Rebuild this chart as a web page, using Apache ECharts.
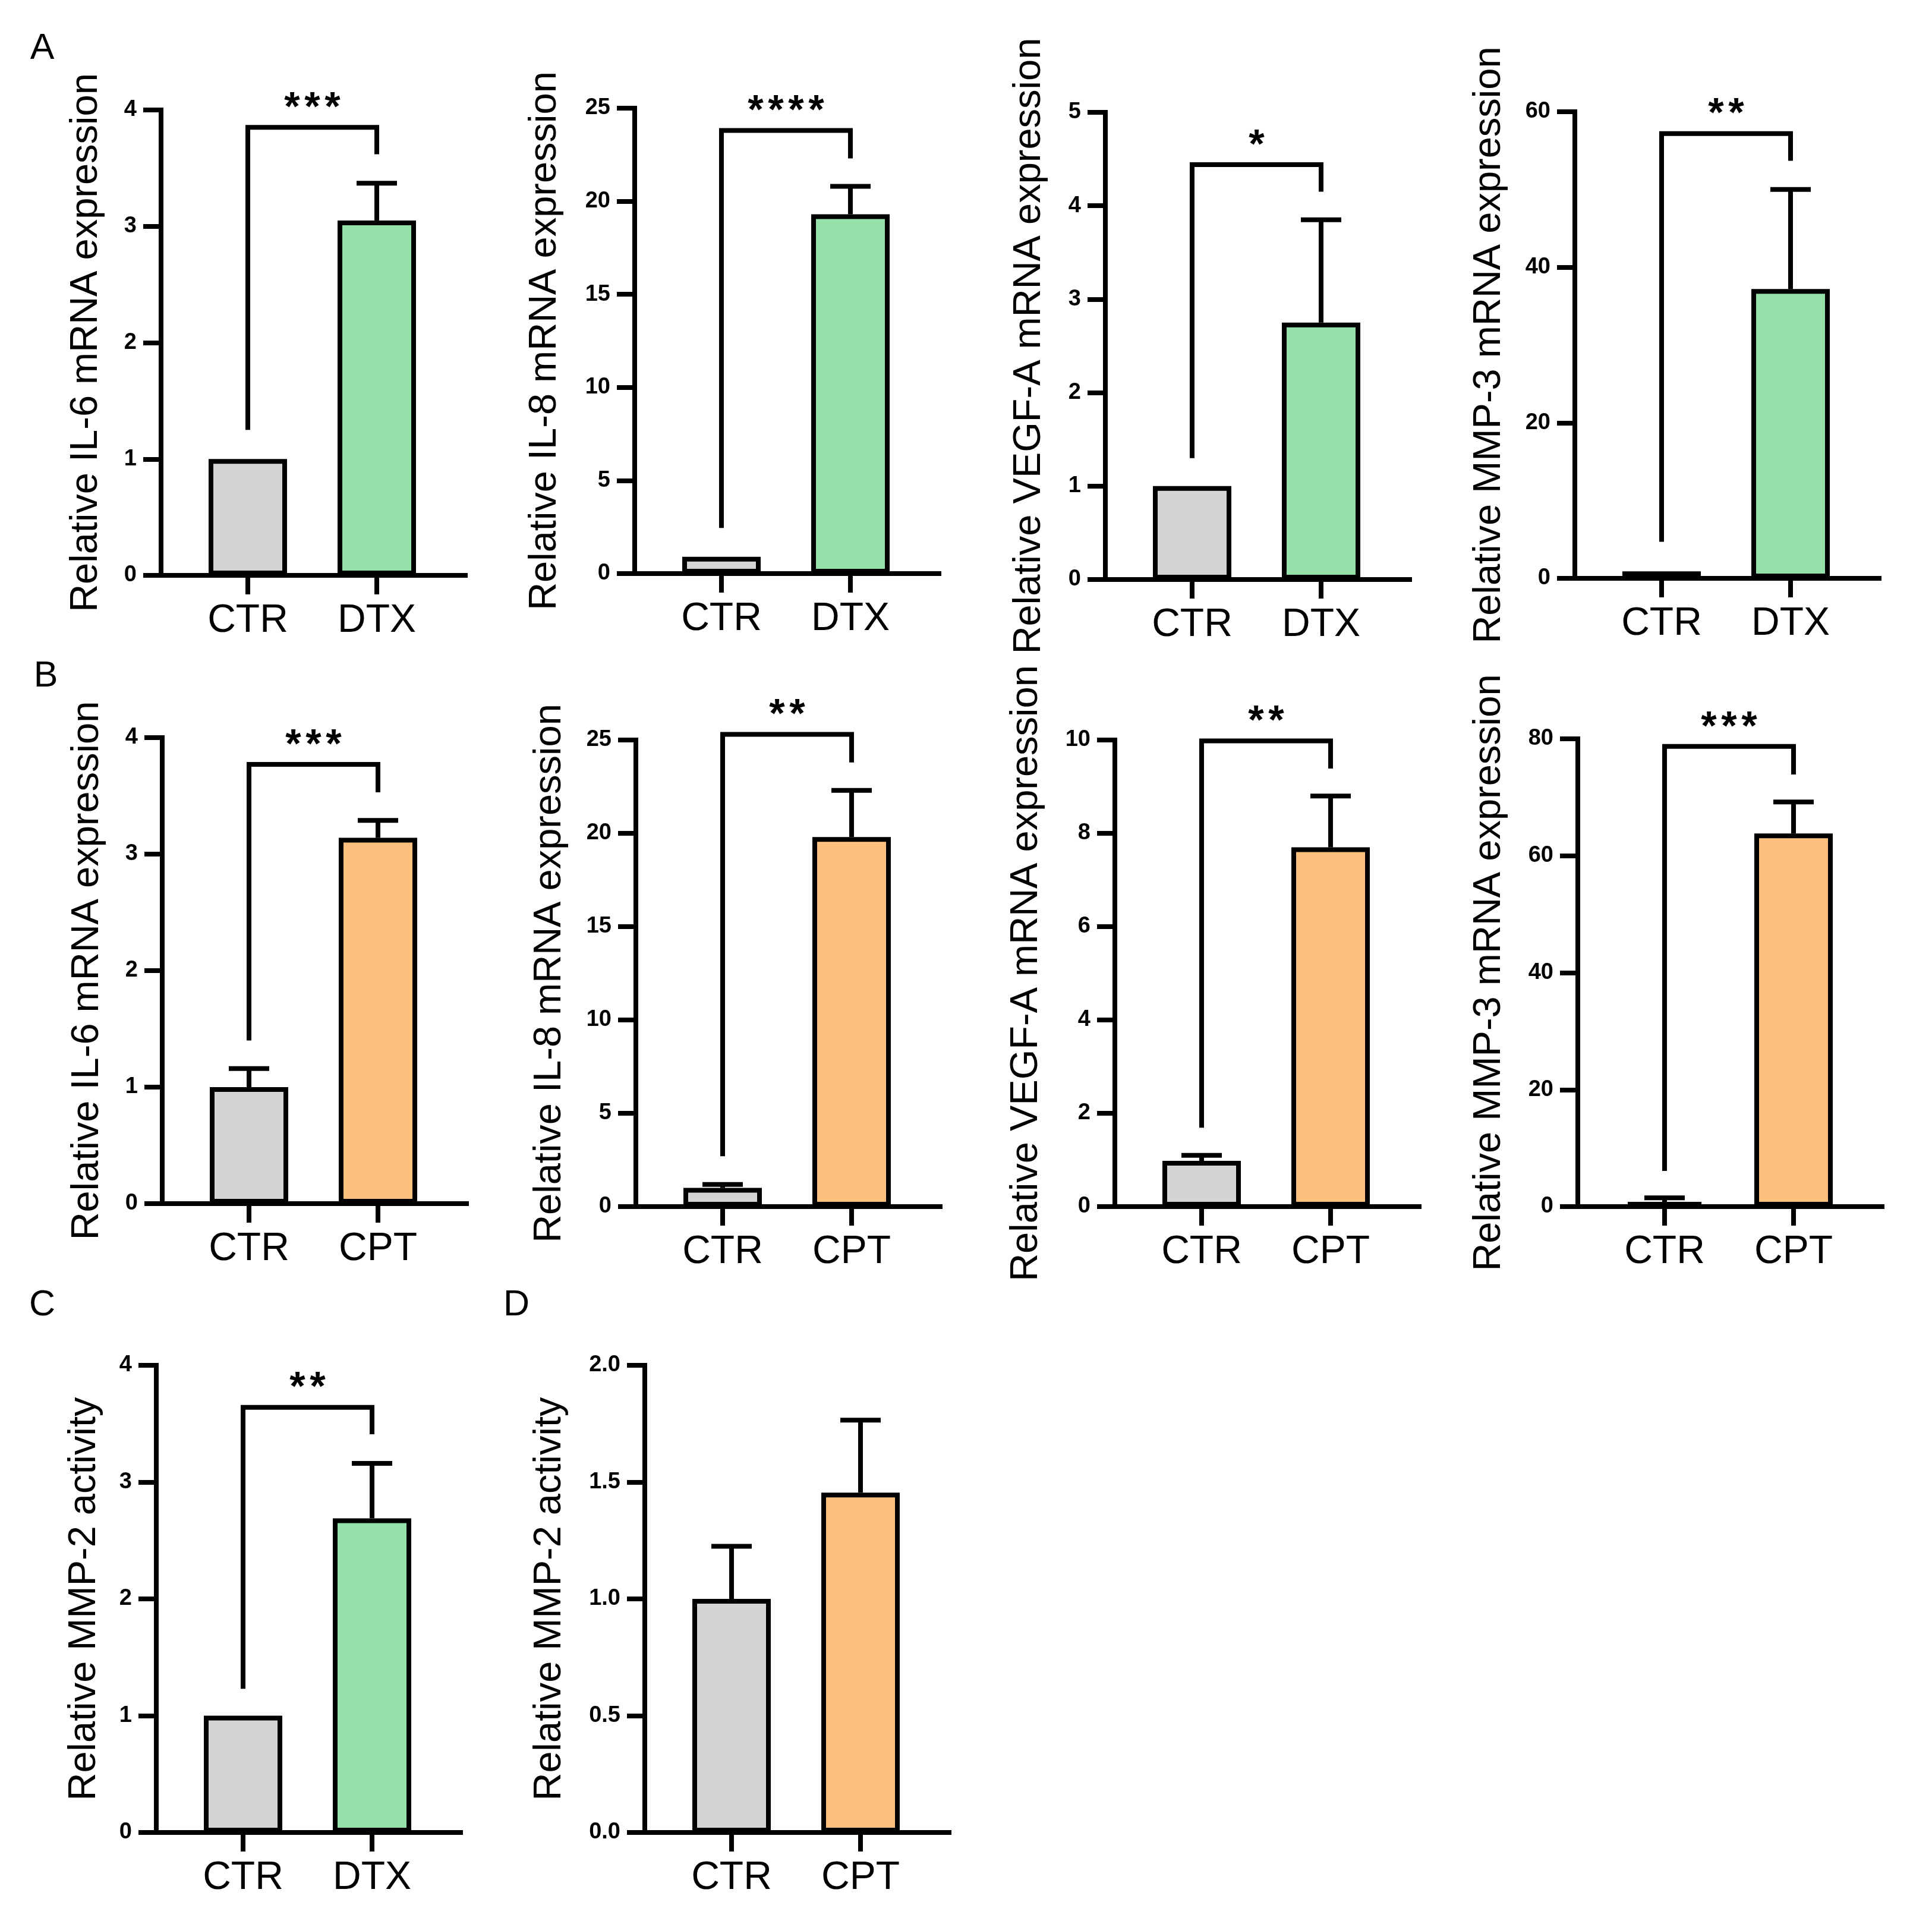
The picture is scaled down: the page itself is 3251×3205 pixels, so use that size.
<!DOCTYPE html>
<html>
<head>
<meta charset="utf-8">
<script src="https://cdn.jsdelivr.net/npm/echarts@6/dist/echarts.min.js"></script>
<style>
html, body { margin: 0; padding: 0; background: #fff; }
#chart { width: 3251px; height: 3205px; }
</style>
</head>
<body>
<div id="chart"></div>
<script>
// groups
var dtxGroups = ['CTR', 'DTX'];
var cptGroups = ['CTR', 'CPT'];

// row A - docetaxel
var il6Dtx = [1.0, 3.05], il6DtxErr = [0, 0.32];
var il8Dtx = [0.9, 19.3], il8DtxErr = [0, 1.5];
var vegfDtx = [1.0, 2.75], vegfDtxErr = [0, 1.1];
var mmp3Dtx = [0.9, 37.2], mmp3DtxErr = [0, 12.8];
// row B - camptothecin
var il6Cpt = [1.0, 3.14], il6CptErr = [0.16, 0.15];
var il8Cpt = [1.0, 19.8], il8CptErr = [0.19, 2.5];
var vegfCpt = [0.98, 7.7], vegfCptErr = [0.12, 1.1];
var mmp3Cpt = [0.8, 63.8], mmp3CptErr = [0.7, 5.4];
// C / D - MMP-2 activity
var mmp2Dtx = [1.0, 2.69], mmp2DtxErr = [0, 0.47];
var mmp2Cpt = [1.0, 1.455], mmp2CptErr = [0.225, 0.31];

// y ticks
var ticks4 = [0, 1, 2, 3, 4];
var ticks25 = [0, 5, 10, 15, 20, 25];
var ticks5 = [0, 1, 2, 3, 4, 5];
var ticks60 = [0, 20, 40, 60];
var ticks10 = [0, 2, 4, 6, 8, 10];
var ticks80 = [0, 20, 40, 60, 80];
var ticks2 = [0, 0.5, 1.0, 1.5, 2.0];

// significance brackets: [bar height, left leg bottom, right leg bottom]
var il6DtxSig = [3.85, 1.25, 3.62];
var il8DtxSig = [23.8, 2.45, 22.3];
var vegfDtxSig = [4.44, 1.3, 4.15];
var mmp3DtxSig = [57.2, 4.7, 53.7];
var il6CptSig = [3.77, 1.40, 3.53];
var il8CptSig = [25.3, 2.7, 23.8];
var vegfCptSig = [9.98, 1.69, 9.39];
var mmp3CptSig = [78.7, 6.1, 73.9];
var mmp2DtxSig = [3.64, 1.23, 3.41];

var GRAY = '#d4d4d4', GREEN = '#96e0aa', ORANGE = '#fec07e';
var FONT = 'Liberation Sans, Arial, sans-serif';

var panels = [
  {groups: dtxGroups, name: 'Relative IL-6 mRNA expression', mean: il6Dtx, err: il6DtxErr, ticks: ticks4, sig: il6DtxSig, stars: '***', color: GREEN, left: 271, top: 185, bottom: 968, gap: 93},
  {groups: dtxGroups, name: 'Relative IL-8 mRNA expression', mean: il8Dtx, err: il8DtxErr, ticks: ticks25, sig: il8DtxSig, stars: '****', color: GREEN, left: 1068, top: 182, bottom: 965, gap: 118},
  {groups: dtxGroups, name: 'Relative VEGF-A mRNA expression', mean: vegfDtx, err: vegfDtxErr, ticks: ticks5, sig: vegfDtxSig, stars: '*', color: GREEN, left: 1860, top: 189, bottom: 975, gap: 95},
  {groups: dtxGroups, name: 'Relative MMP-3 mRNA expression', mean: mmp3Dtx, err: mmp3DtxErr, ticks: ticks60, sig: mmp3DtxSig, stars: '**', color: GREEN, left: 2650, top: 188, bottom: 973, gap: 111},
  {groups: cptGroups, name: 'Relative IL-6 mRNA expression', mean: il6Cpt, err: il6CptErr, ticks: ticks4, sig: il6CptSig, stars: '***', color: ORANGE, left: 273, top: 1241, bottom: 2025, gap: 93},
  {groups: cptGroups, name: 'Relative IL-8 mRNA expression', mean: il8Cpt, err: il8CptErr, ticks: ticks25, sig: il8CptSig, stars: '**', color: ORANGE, left: 1070, top: 1245, bottom: 2030, gap: 112},
  {groups: cptGroups, name: 'Relative VEGF-A mRNA expression', mean: vegfCpt, err: vegfCptErr, ticks: ticks10, sig: vegfCptSig, stars: '**', color: ORANGE, left: 1876, top: 1245, bottom: 2030, gap: 116},
  {groups: cptGroups, name: 'Relative MMP-3 mRNA expression', mean: mmp3Cpt, err: mmp3CptErr, ticks: ticks80, sig: mmp3CptSig, stars: '***', color: ORANGE, left: 2655, top: 1243, bottom: 2030, gap: 116},
  {groups: dtxGroups, name: 'Relative MMP-2 activity', mean: mmp2Dtx, err: mmp2DtxErr, ticks: ticks4, sig: mmp2DtxSig, stars: '**', color: GREEN, left: 263, top: 2297, bottom: 3083, gap: 88},
  {groups: cptGroups, name: 'Relative MMP-2 activity', mean: mmp2Cpt, err: mmp2CptErr, ticks: ticks2, sig: null, stars: '', color: ORANGE, left: 1085, top: 2297, bottom: 3083, gap: 127, decimals: 1}
];

var LW = 8;          // line width used everywhere
var W = 512;         // axis length
var FIRST = 146;     // y axis -> first bar centre
var STEP = 217;      // bar centre spacing

var chart = echarts.init(document.getElementById('chart'));
var option = {
  animation: false,
  backgroundColor: '#fff',
  grid: [], xAxis: [], yAxis: [], series: [],
  graphic: [
    {type: 'text', x: 71, y: 82, style: {text: 'A', font: '61px ' + FONT, fill: '#000', textAlign: 'center', textVerticalAlign: 'middle'}},
    {type: 'text', x: 77, y: 1138, style: {text: 'B', font: '61px ' + FONT, fill: '#000', textAlign: 'center', textVerticalAlign: 'middle'}},
    {type: 'text', x: 71, y: 2196, style: {text: 'C', font: '61px ' + FONT, fill: '#000', textAlign: 'center', textVerticalAlign: 'middle'}},
    {type: 'text', x: 869, y: 2196, style: {text: 'D', font: '61px ' + FONT, fill: '#000', textAlign: 'center', textVerticalAlign: 'middle'}}
  ]
};

var black = {color: '#000', width: LW, cap: 'square'};

panels.forEach(function (p, i) {
  option.grid.push({left: p.left, top: p.top, width: W, height: p.bottom - p.top, containLabel: false});
  option.xAxis.push({
    type: 'value', gridIndex: i,
    min: -FIRST / STEP, max: (W - FIRST) / STEP,
    axisLine: {show: true, onZero: false, lineStyle: black},
    axisTick: {show: true, customValues: [0, 1], length: 32, lineStyle: {color: '#000', width: LW}},
    axisLabel: {
      customValues: [0, 1], margin: 44, fontSize: 66, color: '#000', fontFamily: FONT,
      formatter: function (v) { return p.groups[Math.round(v)]; }
    },
    splitLine: {show: false}
  });
  option.yAxis.push({
    type: 'value', gridIndex: i,
    min: p.ticks[0], max: p.ticks[p.ticks.length - 1], interval: p.ticks[1] - p.ticks[0],
    name: p.name, nameLocation: 'middle', nameGap: p.gap,
    nameTextStyle: {fontSize: 65, color: '#000', fontFamily: FONT},
    axisLine: {show: true, onZero: false, lineStyle: black},
    axisTick: {show: true, length: 30, lineStyle: {color: '#000', width: LW}},
    axisLabel: {
      margin: 41, fontSize: 38, fontWeight: 'bold', color: '#000', fontFamily: FONT,
      formatter: function (v) { return p.decimals ? v.toFixed(p.decimals) : String(v); }
    },
    splitLine: {show: false}
  });

  option.series.push({
    type: 'bar', xAxisIndex: i, yAxisIndex: i, barWidth: 132, silent: true,
    itemStyle: {borderColor: '#000', borderWidth: LW},
    data: p.mean.map(function (v, k) {
      return {value: [k, v], itemStyle: {color: k === 0 ? GRAY : p.color}};
    })
  });

  var errData = [];
  p.mean.forEach(function (v, k) {
    if (p.err[k] > 0) errData.push([k, v, v + p.err[k]]);
  });
  option.series.push({
    type: 'custom', xAxisIndex: i, yAxisIndex: i, silent: true, z: 3,
    encode: {x: 0, y: 2},
    data: errData,
    renderItem: function (params, api) {
      var b = api.coord([api.value(0), api.value(1)]);
      var t = api.coord([api.value(0), api.value(2)]);
      return {type: 'group', children: [
        {type: 'line', shape: {x1: b[0], y1: b[1], x2: t[0], y2: t[1]}, style: {stroke: '#000', lineWidth: LW}},
        {type: 'line', shape: {x1: t[0] - 34, y1: t[1], x2: t[0] + 34, y2: t[1]}, style: {stroke: '#000', lineWidth: LW}}
      ]};
    }
  });

  if (p.sig) {
    option.series.push({
      type: 'custom', xAxisIndex: i, yAxisIndex: i, silent: true, z: 3, clip: false,
      encode: {x: 0, y: 1},
      data: [[0, p.sig[0], p.sig[1], p.sig[2]]],
      renderItem: function (params, api) {
        var y = api.value(1);
        var l = api.coord([0, api.value(2)]);
        var tl = api.coord([0, y]);
        var tr = api.coord([1, y]);
        var r = api.coord([1, api.value(3)]);
        var kids = [{
          type: 'polyline',
          shape: {points: [l, tl, tr, r]},
          style: {stroke: '#000', fill: null, lineWidth: LW, lineJoin: 'miter'}
        }];
        var n = p.stars.length, mid = (tl[0] + tr[0]) / 2;
        for (var j = 0; j < n; j++) {
          kids.push({
            type: 'text', x: mid + (j - (n - 1) / 2) * 34, y: tl[1] - 31,
            style: {text: '*', font: 'bold 68px ' + FONT, fill: '#000', textAlign: 'center', textVerticalAlign: 'middle'}
          });
        }
        return {type: 'group', children: kids};
      }
    });
  }
});

chart.setOption(option);
</script>
</body>
</html>
